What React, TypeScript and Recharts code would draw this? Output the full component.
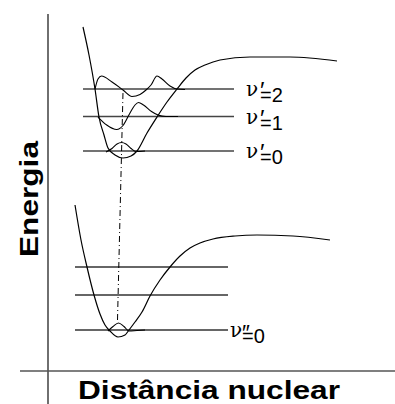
import React from "react";
import { ComposedChart, Line, XAxis, YAxis, ReferenceLine } from "recharts";

// [nuclear distance, energy] (arbitrary units)
const excitedCurve = [
  [83, 377], [89, 349], [95, 315], [99, 287], [104, 269], [108, 256], [115, 249],
  [123, 246], [131, 248], [137, 253], [147, 271], [157, 287], [167, 302], [177, 315],
  [186, 326], [195, 334], [205, 339], [220, 344], [250, 347], [290, 347], [337, 343],
];
const groundCurve = [
  [75, 199], [81, 164], [87, 137], [94, 109], [100, 90], [105, 79], [110, 73],
  [118, 67], [125, 69], [129, 74], [135, 82], [142, 92], [150, 108], [160, 124],
  [170, 137], [180, 148], [190, 156], [200, 161], [213, 165], [235, 168], [257, 169],
  [293, 168], [330, 164],
];

// vibrational wavefunctions
const psiUp2 = [
  [95, 315], [98, 325], [101.5, 328], [112, 322], [123, 314], [132, 307.5], [140, 309.5],
  [146, 314], [151, 319], [157, 328], [162, 325], [170, 318], [177, 315], [185, 314.5],
];
const psiUp1 = [
  [98, 287], [106.7, 279], [116.7, 274.5], [123, 278.5], [130, 291], [135, 299],
  [138.5, 301.5], [143.5, 299], [151.5, 292.5], [158, 289], [166, 287.5], [178, 287.5],
];
const psiUp0 = [
  [106, 252], [112, 255.5], [117, 260], [121.5, 261.5], [126, 260], [131, 255.5],
  [136, 252.5], [145, 253],
];
const psiLow0 = [
  [108, 73], [113, 77.5], [118.5, 81], [124, 77.5], [129, 73], [137, 73.5], [145, 74],
];

// vertical transition (dash-dot)
const transition = [[117.5, 84], [123, 312]];

// energy levels
const excitedLevels = [253, 287.5, 315];
const excitedLabels = ["0", "1", "2"];
const excitedSpan = [83, 234];
const groundLevels = [74, 109, 137];
const groundLabels = ["0", "", ""];
const groundSpan = [75, 228];

const toPts = (arr: number[][]) => arr.map(([x, e]) => ({ x, e }));

const FONT = "'Liberation Sans', Arial, Helvetica, sans-serif";
const NU_FONT = "'DejaVu Serif', 'Liberation Serif', serif";

const excitedLabel = (v: string) => (props: any) => {
  const vb = props.viewBox;
  const x = vb.x + vb.width;
  const y = vb.y;
  return (
    <text fontFamily={FONT} fontSize={20} fill="#000">
      <tspan x={x + 12} y={y + 7} fontFamily={NU_FONT} fontSize={20}>ν</tspan>
      <tspan x={x + 26} y={y + 10} fontSize={24}>′</tspan>
      <tspan x={x + 26} y={y + 13}>={v}</tspan>
    </text>
  );
};

const groundLabel = (v: string) => (props: any) => {
  // an empty group keeps Recharts from drawing its default label
  if (!v) return <g />;
  const vb = props.viewBox;
  const x = vb.x + vb.width;
  const y = vb.y;
  return (
    <text fontFamily={FONT} fontSize={20} fill="#000">
      <tspan x={x + 2} y={y + 7} fontFamily={NU_FONT} fontSize={20}>ν</tspan>
      <tspan x={x + 14} y={y + 10} fontSize={22}>″</tspan>
      <tspan x={x + 14} y={y + 13}>={v}</tspan>
    </text>
  );
};

const energyTitle = (props: any) => {
  const vb = props.viewBox;
  const x = vb.x - 10;
  const y = 199;
  return (
    <text
      x={x}
      y={y}
      transform={`rotate(-90 ${x} ${y})`}
      textAnchor="middle"
      fontFamily={FONT}
      fontWeight="bold"
      fontSize={26}
      textLength={116}
      lengthAdjust="spacingAndGlyphs"
      fill="#000"
    >
      Energia
    </text>
  );
};

const distanceTitle = (props: any) => {
  const vb = props.viewBox;
  return (
    <text
      x={209}
      y={vb.y + 28}
      textAnchor="middle"
      fontFamily={FONT}
      fontWeight="bold"
      fontSize={26}
      textLength={262}
      lengthAdjust="spacingAndGlyphs"
      fill="#000"
    >
      Distância nuclear
    </text>
  );
};

const curves = [
  { name: "excited", pts: excitedCurve, w: 1.2 },
  { name: "ground", pts: groundCurve, w: 1.2 },
  { name: "psiUp2", pts: psiUp2, w: 1.1 },
  { name: "psiUp1", pts: psiUp1, w: 1.1 },
  { name: "psiUp0", pts: psiUp0, w: 1.1 },
  { name: "psiLow0", pts: psiLow0, w: 1.1 },
];

export default function App() {
  return (
    <div style={{ position: "absolute", left: 0, top: 0, width: 395, height: 404, background: "#fff" }}>
      <ComposedChart width={395} height={404} margin={{ top: 0, right: 0, bottom: 0, left: 0 }}>
        <XAxis dataKey="x" type="number" domain={[0, 395]} hide allowDataOverflow />
        <YAxis type="number" domain={[0, 404]} hide allowDataOverflow />

        {/* axes */}
        <ReferenceLine
          segment={[{ x: 48, y: 390 }, { x: 48, y: 0 }]}
          stroke="#222"
          strokeWidth={1.3}
          label={{ content: energyTitle }}
        />
        <ReferenceLine
          segment={[{ x: 20, y: 33 }, { x: 395, y: 33 }]}
          stroke="#555"
          strokeWidth={1.5}
          label={{ content: distanceTitle }}
        />

        {excitedLevels.map((e, i) => (
          <ReferenceLine
            key={"ex" + i}
            segment={[{ x: excitedSpan[0], y: e }, { x: excitedSpan[1], y: e }]}
            stroke="#444"
            strokeWidth={1.3}
            label={{ content: excitedLabel(excitedLabels[i]) }}
          />
        ))}
        {groundLevels.map((e, i) => (
          <ReferenceLine
            key={"gr" + i}
            segment={[{ x: groundSpan[0], y: e }, { x: groundSpan[1], y: e }]}
            stroke="#333"
            strokeWidth={1.3}
            label={{ content: groundLabel(groundLabels[i]) }}
          />
        ))}

        {curves.map((c) => (
          <Line
            key={c.name}
            name={c.name}
            data={toPts(c.pts)}
            dataKey="e"
            type="monotone"
            stroke="#000"
            strokeWidth={c.w}
            dot={false}
            activeDot={false}
            isAnimationActive={false}
          />
        ))}
        <Line
          name="transition"
          data={toPts(transition)}
          dataKey="e"
          type="linear"
          stroke="#000"
          strokeWidth={1}
          strokeDasharray="6 3 1 3"
          dot={false}
          activeDot={false}
          isAnimationActive={false}
        />
      </ComposedChart>
    </div>
  );
}
